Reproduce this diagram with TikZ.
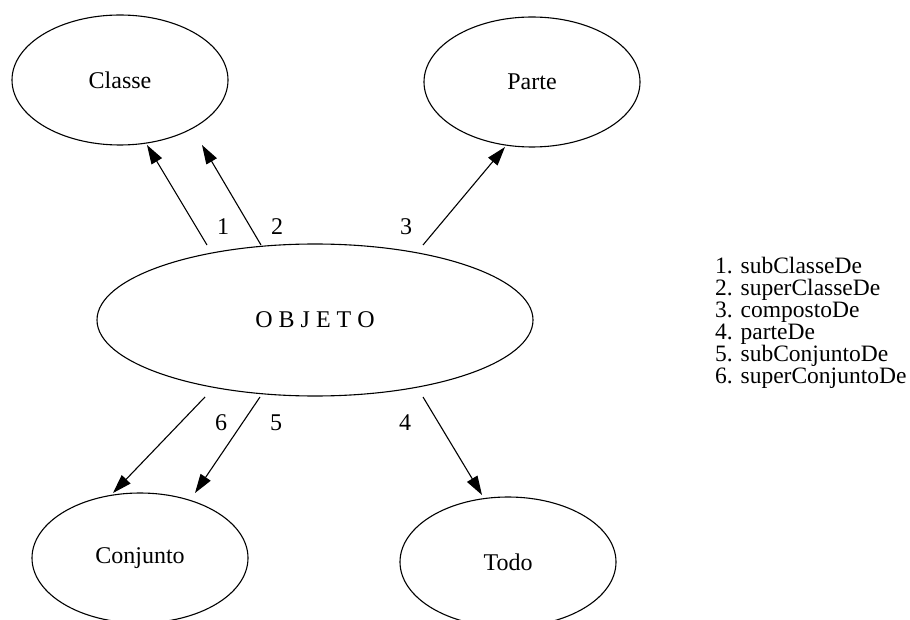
\documentclass[tikz,border=0pt]{standalone}
\usepackage{fontspec}
\setmainfont{Liberation Serif}
\usetikzlibrary{arrows.meta,shapes.geometric}
\begin{document}
\begin{tikzpicture}[x=1pt,y=-1pt,
  every node/.style={font=\fontsize{24}{24}\selectfont},
  concept/.style={draw, ellipse, line width=1.1pt, inner sep=0pt},
  small/.style={concept, minimum width=216pt, minimum height=130pt},
  rel/.style={line width=1.1pt, -{Triangle[length=19pt,width=12pt]}},
  num/.style={inner sep=0pt, anchor=center},
  legend/.style={inner sep=0pt, anchor=base west}
]
\useasboundingbox (0,0) rectangle (910,620);

% concepts
\node[small] (classe)   at (120,80)  {Classe};
\node[small] (parte)    at (532,82)  {Parte};
\node[concept, minimum width=436pt, minimum height=152pt] (objeto) at (315,320) {O B J E T O};
\node[small] (conjunto) at (140,558) {Conjunto};
\node[small] (todo)     at (508,562) {Todo};

% connector ends
\coordinate (t1) at (207,245); \coordinate (h1) at (147,145);
\coordinate (t2) at (261,245); \coordinate (h2) at (202,145);
\coordinate (t3) at (423,245); \coordinate (h3) at (505,147);
\coordinate (t4) at (423,397); \coordinate (h4) at (482,495);
\coordinate (t5) at (260,397); \coordinate (h5) at (195,493);
\coordinate (t6) at (205,397); \coordinate (h6) at (113,493);

% relations
\draw[rel] (t1) -- (h1);
\draw[rel] (t2) -- (h2);
\draw[rel] (t3) -- (h3);
\draw[rel] (t4) -- (h4);
\draw[rel] (t5) -- (h5);
\draw[rel] (t6) -- (h6);

% relation numbers
\node[num] (n1) at (223,227) {1};
\node[num] (n2) at (277,227) {2};
\node[num] (n3) at (406,227) {3};
\node[num] (n6) at (221,423) {6};
\node[num] (n5) at (276,423) {5};
\node[num] (n4) at (405,423) {4};

% key
\begin{scope}[every node/.style={font=\fontsize{23.5}{24}\selectfont}]
\node[legend] (k1) at (715,273) {1. subClasseDe};
\node[legend] (k2) at (715,295) {2. superClasseDe};
\node[legend] (k3) at (715,317) {3. compostoDe};
\node[legend] (k4) at (715,339) {4. parteDe};
\node[legend] (k5) at (715,361) {5. subConjuntoDe};
\node[legend] (k6) at (715,383) {6. superConjuntoDe};
\end{scope}
\end{tikzpicture}
\end{document}
